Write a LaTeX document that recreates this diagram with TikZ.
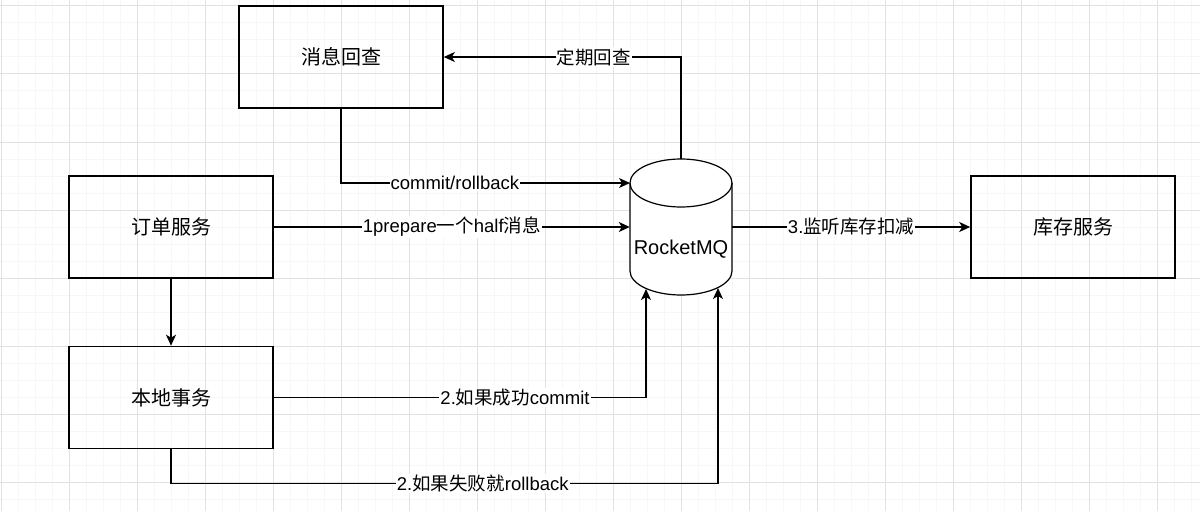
\documentclass[tikz,border=0pt]{standalone}
\usepackage{fontspec}
\setmainfont{Liberation Sans}
\newfontfamily\cjk{Noto Sans CJK SC}
\usetikzlibrary{arrows.meta}
\definecolor{gmaj}{HTML}{E2E2E2}
\definecolor{gmin}{HTML}{F7F7F7}
\newcommand{\boxfont}{\fontsize{20}{24}\selectfont}
\newcommand{\lblfont}{\fontsize{18.5}{22}\selectfont}
\begin{document}
\begin{tikzpicture}[x=1pt,y=-1pt,
  box/.style={draw, line width=1.6pt, minimum width=204pt, minimum height=102pt, inner sep=0pt, font=\boxfont},
  conn/.style={line width=1.4pt, -{Stealth[length=11pt,width=10pt,inset=3pt]}},
  lbl/.style={fill=white, inner sep=1pt, font=\lblfont},
  cyl/.style={line width=1.2pt}]
\fill[white] (0,0) rectangle (1200,511);
\useasboundingbox (0,0) rectangle (1200,511);
% grid
\foreach \x in {1,18,...,1200} \draw[gmin, line width=1pt] (\x,0) -- (\x,511);
\foreach \y in {6,23,...,511} \draw[gmin, line width=1pt] (0,\y) -- (1200,\y);
\foreach \x in {1,69,...,1200} \draw[gmaj, line width=1pt] (\x,0) -- (\x,511);
\foreach \y in {6,74,...,511} \draw[gmaj, line width=1pt] (0,\y) -- (1200,\y);
% boxes
\node[box] (xx) at (341,57) {\cjk 消息回查};
\node[box] (dd) at (171,227) {\cjk 订单服务};
\node[box] (bd) at (171,397.5) {\cjk 本地事务};
\node[box] (kc) at (1073,227) {\cjk 库存服务};
% cylinder
\node[minimum width=102pt, minimum height=136pt, inner sep=0pt] (mq) at (681,227) {};
\fill[white] (630,183) -- (630,271) arc[start angle=180,end angle=360,x radius=51pt,y radius=24pt] -- (732,183) arc[start angle=0,end angle=180,x radius=51pt,y radius=24pt] -- cycle;
\draw[cyl] (630,183) -- (630,271) arc[start angle=180,end angle=360,x radius=51pt,y radius=24pt] -- (732,183);
\draw[cyl] (681,183) ellipse [x radius=51pt, y radius=24pt];
\node[font=\boxfont, inner sep=0pt] (mqtext) at (681,249) {RocketMQ};
\coordinate (mqa) at (630,183);
\coordinate (mqc) at (681,159);
\coordinate (mqd) at (646,289);
\coordinate (mqe) at (718,288);
% connectors
\draw[conn] (xx.south) |- node[lbl,pos=0.697]{commit/rollback} (mqa);
\draw[conn] (dd.east) -- node[lbl]{1prepare{\cjk 一个}half{\cjk 消息}} (mq.west);
\draw[conn] (mq.east) -- node[lbl]{3.{\cjk 监听库存扣减}} (kc.west);
\draw[conn] (mqc) |- node[lbl,pos=0.684]{\cjk 定期回查} (xx.east);
\draw[conn] (dd.south) -- (bd.north);
\draw[conn] (bd.east) -| node[lbl,pos=0.324]{2.{\cjk 如果成功}commit} (mqd);
\draw[conn] (bd.south) -- ++(0,34) -| node[lbl,pos=0.285]{2.{\cjk 如果失败就}rollback} (mqe);
\end{tikzpicture}
\end{document}
